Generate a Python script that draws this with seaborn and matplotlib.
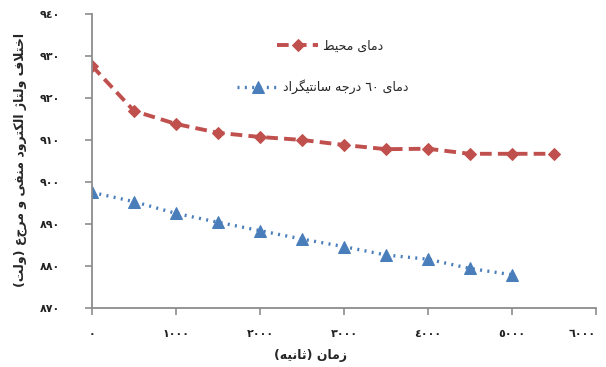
import re
import pandas as pd
import seaborn as sns
import matplotlib.pyplot as plt
from matplotlib.ticker import FuncFormatter, MultipleLocator

# data
time_ambient = [0, 500, 1000, 1500, 2000, 2500, 3000, 3500, 4000, 4500, 5000, 5500]
volt_ambient = [927.6, 916.9, 913.8, 911.7, 910.7, 910.0, 908.8, 907.8, 907.9, 906.7, 906.7, 906.7]
time_60c = [0, 500, 1000, 1500, 2000, 2500, 3000, 3500, 4000, 4500, 5000]
volt_60c = [897.5, 895.3, 892.5, 890.4, 888.4, 886.4, 884.6, 882.6, 881.6, 879.4, 877.9]

label_ambient = "دمای محیط"
label_60c = "دمای ٦٠ درجه سانتیگراد"
x_title = "زمان (ثانیه)"
y_title = "اختلاف ولتاژ الکترود منفی و مرجع (ولت)"

RED = "#c0504d"
BLUE = "#4a7ebb"
GREY = "#8c8c8c"

# matplotlib does no arabic shaping, so do it by hand with presentation forms
# (isolated, final, initial, medial)
FORMS = {
    "ا": ("\uFE8D", "\uFE8E", None, None),
    "ت": ("\uFE95", "\uFE96", "\uFE97", "\uFE98"),
    "ث": ("\uFE99", "\uFE9A", "\uFE9B", "\uFE9C"),
    "ج": ("\uFE9D", "\uFE9E", "\uFE9F", "\uFEA0"),
    "ح": ("\uFEA1", "\uFEA2", "\uFEA3", "\uFEA4"),
    "خ": ("\uFEA5", "\uFEA6", "\uFEA7", "\uFEA8"),
    "د": ("\uFEA9", "\uFEAA", None, None),
    "ر": ("\uFEAD", "\uFEAE", None, None),
    "ز": ("\uFEAF", "\uFEB0", None, None),
    "ژ": ("\uFB8A", "\uFB8B", None, None),
    "س": ("\uFEB1", "\uFEB2", "\uFEB3", "\uFEB4"),
    "ط": ("\uFEC1", "\uFEC2", "\uFEC3", "\uFEC4"),
    "ف": ("\uFED1", "\uFED2", "\uFED3", "\uFED4"),
    "ک": ("\uFB8E", "\uFB8F", "\uFB90", "\uFB91"),
    "گ": ("\uFB92", "\uFB93", "\uFB94", "\uFB95"),
    "ل": ("\uFEDD", "\uFEDE", "\uFEDF", "\uFEE0"),
    "م": ("\uFEE1", "\uFEE2", "\uFEE3", "\uFEE4"),
    "ن": ("\uFEE5", "\uFEE6", "\uFEE7", "\uFEE8"),
    "ه": ("\uFEE9", "\uFEEA", "\uFEEB", "\uFEEC"),
    "و": ("\uFEED", "\uFEEE", None, None),
    "ی": ("\uFBFC", "\uFBFD", "\uFBFE", "\uFBFF"),
}


def joins_next(ch):
    return ch in FORMS and FORMS[ch][2] is not None


def shape(text):
    out = []
    i = 0
    while i < len(text):
        ch = text[i]
        prev = text[i - 1] if i > 0 else ""
        nxt = text[i + 1] if i + 1 < len(text) else ""
        if ch not in FORMS:
            out.append(ch)
            i += 1
            continue
        after = joins_next(prev)
        if ch == "ل" and nxt == "ا":
            out.append("\uFEFC" if after else "\uFEFB")
            i += 2
            continue
        before = joins_next(ch) and nxt in FORMS
        iso, fin, ini, med = FORMS[ch]
        if after and before:
            out.append(med)
        elif after:
            out.append(fin)
        elif before:
            out.append(ini)
        else:
            out.append(iso)
        i += 1
    return "".join(out)


def rtl(text):
    vis = shape(text)[::-1]
    vis = re.sub(r"[0-9\u0660-\u0669]+", lambda m: m.group(0)[::-1], vis)
    return vis.translate(str.maketrans("()", ")("))


def arabic_digits(v, pos):
    return str(int(round(v))).translate(str.maketrans("0123456789", "٠١٢٣٤٥٦٧٨٩"))


sns.set_style("white")
plt.rcParams["font.family"] = ["DejaVu Sans"]

df_amb = pd.DataFrame({"t": time_ambient, "v": volt_ambient})
df_60 = pd.DataFrame({"t": time_60c, "v": volt_60c})

fig = plt.figure(figsize=(6.06, 3.67), dpi=100)
ax = fig.add_axes([0.152, 0.161, 0.831, 0.801])

sns.lineplot(data=df_amb, x="t", y="v", ax=ax, color=RED, ls=(0, (3, 1.6)), lw=2.8,
             marker="D", markersize=6.5, markeredgecolor=RED, label=rtl(label_ambient))
sns.lineplot(data=df_60, x="t", y="v", ax=ax, color=BLUE, ls=(0, (0.6, 1.6)), lw=2.4,
             marker="^", markersize=8.5, markeredgecolor=BLUE, label=rtl(label_60c))

ax.set_xlim(0, 6000)
ax.set_ylim(870, 940)
ax.xaxis.set_major_locator(MultipleLocator(1000))
ax.yaxis.set_major_locator(MultipleLocator(10))
ax.xaxis.set_major_formatter(FuncFormatter(arabic_digits))
ax.yaxis.set_major_formatter(FuncFormatter(arabic_digits))

for side in ["top", "right"]:
    ax.spines[side].set_visible(False)
for side in ["left", "bottom"]:
    ax.spines[side].set_color(GREY)
    ax.spines[side].set_linewidth(1.3)

ax.tick_params(axis="both", direction="out", length=5, width=1.2, color=GREY,
               labelsize=8, labelcolor="#222222", bottom=True, left=True)
ax.tick_params(axis="y", pad=18)
ax.tick_params(axis="x", pad=10)
fig.canvas.draw()
for lbl in ax.get_xticklabels() + ax.get_yticklabels():
    lbl.set_fontweight("bold")
# last x label would run off the right edge
for tick in ax.xaxis.get_major_ticks():
    if abs(tick.get_loc() - 6000) < 1:
        tick.label1.set_horizontalalignment("right")

ax.set_xlabel(rtl(x_title), fontsize=9, fontweight="bold", va="center")
ax.xaxis.set_label_coords(0.433, -0.163)
ax.set_ylabel(rtl(y_title), fontsize=9, fontweight="bold", va="center")
ax.yaxis.set_label_coords(-0.143, 0.503)

# two single-entry legends so each row sits where it does in the reference
handles, labels = ax.get_legend_handles_labels()
leg1 = ax.legend([handles[0]], [labels[0]], loc="center left",
                 bbox_to_anchor=(0.367, 0.891), frameon=False, fontsize=9,
                 handlelength=3.3, handletextpad=0.4, borderpad=0, borderaxespad=0)
ax.add_artist(leg1)
ax.legend([handles[1]], [labels[1]], loc="center left",
          bbox_to_anchor=(0.288, 0.752), frameon=False, fontsize=9,
          handlelength=3.3, handletextpad=0.4, borderpad=0, borderaxespad=0)

fig.savefig("out.png", dpi=100)
